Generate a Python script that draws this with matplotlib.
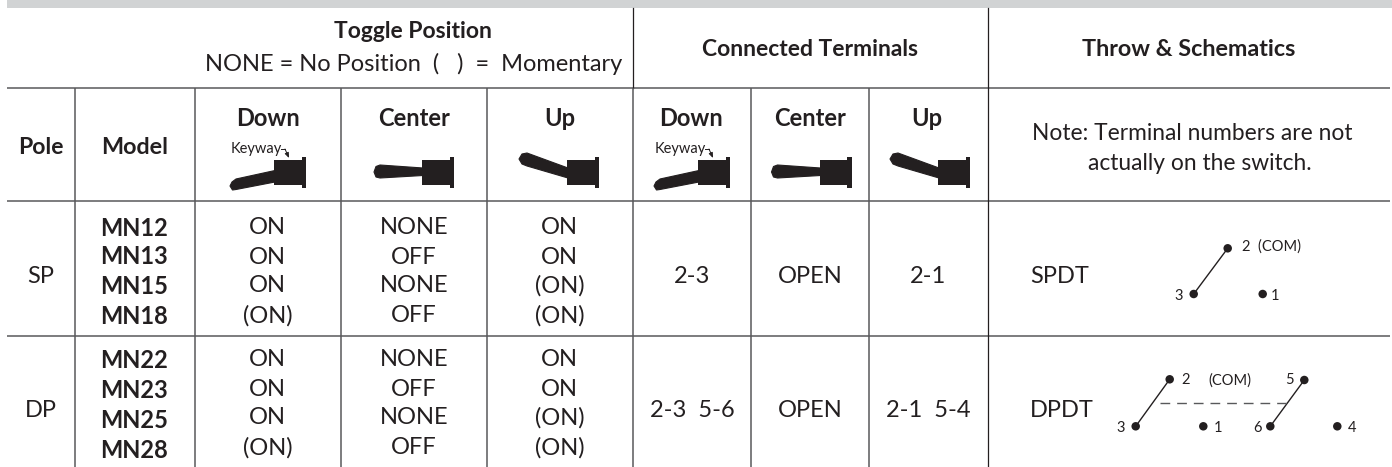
import matplotlib
matplotlib.use("Agg")
import matplotlib.pyplot as plt
from matplotlib.patches import Polygon, Rectangle, Ellipse

plt.rcParams['font.family'] = ['Lato', 'DejaVu Sans']

# table contents
poles = ["SP", "DP"]
models = [["MN12", "MN13", "MN15", "MN18"], ["MN22", "MN23", "MN25", "MN28"]]
toggle_down = ["ON", "ON", "ON", "(ON)"]
toggle_center = ["NONE", "OFF", "NONE", "OFF"]
toggle_up = ["ON", "ON", "(ON)", "(ON)"]
conn_down = ["2-3", "2-3  5-6"]
conn_center = ["OPEN", "OPEN"]
conn_up = ["2-1", "2-1  5-4"]
throws = ["SPDT", "DPDT"]

# layout, in pixels of the picture
W, H = 1392, 467
col_x = [74.5, 195, 340.7, 487, 632.7, 751, 869.3, 987.5]
row_y = [88, 201, 335.7]
row_text_y = [[226, 255, 284, 314], [358, 387, 416, 446]]
model_y = [[226, 255, 284, 314], [359, 389, 418, 448]]
row_mid_y = [274.5, 408.5]
line_col = "#58595b"
text_col = "#231f20"

fig = plt.figure(figsize=(W / 100, H / 100), dpi=100)
ax = fig.add_axes([0, 0, 1, 1])
ax.set_xlim(0, W)
ax.set_ylim(H, 0)
ax.axis("off")


def txt(x, y, s, size=17, weight="normal", ha="center", color=text_col):
    ax.text(x, y, s, fontsize=size, fontweight=weight, ha=ha, va="center_baseline", color=color)


def toggle(right, pos, keyway=False):
    # right is the right edge of the flange
    cy = 172
    ax.add_patch(Rectangle((right - 32, cy - 12), 29, 24.5, color=text_col, lw=0))
    ax.add_patch(Rectangle((right - 4.3, cy - 15), 4.3, 31, color=text_col, lw=0))
    b = right - 32
    if pos == "down":
        pts = [(b + 1, cy - 1.5), (b - 38, cy + 7), (b - 42, cy + 10), (b - 44, cy + 14),
               (b - 41.5, cy + 18), (b - 38, cy + 17.5), (b + 1, cy + 10)]
    elif pos == "center":
        pts = [(b + 1, cy - 4), (b - 42, cy - 7), (b - 46, cy - 5.5), (b - 48, cy),
               (b - 46, cy + 5), (b - 42, cy + 6), (b + 1, cy + 3.5)]
    else:
        pts = [(b + 1, cy - 4), (b - 40, cy - 19), (b - 45, cy - 18), (b - 48, cy - 13),
               (b - 45, cy - 8), (b - 40, cy - 6), (b + 1, cy + 6)]
    ax.add_patch(Polygon(pts, closed=True, facecolor=text_col, edgecolor=text_col, lw=0.8, joinstyle="round"))
    if keyway:
        ax.text(b - 43, 148, "Keyway", fontsize=10.5, ha="left", va="center_baseline", color=text_col)
        ax.annotate("", xy=(b + 15, 158), xytext=(b + 11, 149),
                    arrowprops=dict(arrowstyle="-|>,head_width=0.12,head_length=0.3", color=text_col,
                                    lw=0.7, shrinkA=0, shrinkB=0))
        ax.plot([b + 7, b + 11], [149, 149], color=text_col, lw=0.7)


def dot(x, y):
    ax.add_patch(Ellipse((x, y), 8.5, 8.5, color=text_col, lw=0))


# header band and grid
ax.add_patch(Rectangle((7, 0), W - 7, 8, color="#d1d3d4", lw=0))
for y in row_y:
    ax.plot([7, 1390], [y, y], color=line_col, lw=1.1, solid_capstyle="butt")
ax.plot([col_x[4], col_x[4]], [8, 88], color=text_col, lw=0.9)
ax.plot([col_x[7], col_x[7]], [8, H], color=text_col, lw=0.9)
for x in col_x[:-1]:
    ax.plot([x, x], [88, H], color=line_col, lw=1.1, solid_capstyle="butt")

# top header
txt(413, 30, "Toggle Position", size=16.5, weight="bold")
txt(413.5, 62, "NONE = No Position  (   )  =  Momentary", size=17)
txt(810, 47.5, "Connected Terminals", size=16.5, weight="bold")
txt(1189, 47.5, "Throw & Schematics", size=16.8, weight="bold")

# second header
txt(41, 146, "Pole", size=16.6, weight="bold")
txt(134.5, 146, "Model", size=16.8, weight="bold")
for x, s in zip([267.5, 414, 560, 691, 810, 927], ["Down", "Center", "Up", "Down", "Center", "Up"]):
    txt(x, 116, s, size=17, weight="bold")
txt(1192.5, 132, "Note: Terminal numbers are not", size=16.4)
txt(1199.5, 162, "actually on the switch.", size=16.4)

toggle(306, "down", True)
toggle(454, "center")
toggle(599, "up")
toggle(730, "down", True)
toggle(851.5, "center")
toggle(970, "up")

# body rows
for r in range(2):
    ys = row_text_y[r]
    mid = row_mid_y[r]
    txt(41, mid, poles[r])
    for i in range(4):
        txt(134.5, model_y[r][i], models[r][i], size=17, weight="bold")
        txt(267.5, ys[i], toggle_down[i])
        txt(414, ys[i], toggle_center[i])
        txt(559.5, ys[i], toggle_up[i])
    txt(692, mid, conn_down[r])
    txt(810, mid, conn_center[r])
    txt(928, mid, conn_up[r])
    txt(1030, mid, throws[r], ha="left")

# SPDT schematic
dot(1227.7, 248.3)
dot(1193.7, 294)
dot(1262.7, 294)
ax.plot([1227.7, 1193.7], [248.3, 294], color=text_col, lw=1)
txt(1241.5, 245, "2  (COM)", size=10.5, ha="left")
txt(1179, 294, "3", size=10.5)
txt(1275, 294, "1", size=10.5)

# DPDT schematic
for x, y in [(1169.7, 379.3), (1135.7, 426.3), (1203.3, 426.3),
             (1304.3, 380), (1270.3, 426.3), (1337.3, 426.3)]:
    dot(x, y)
ax.plot([1169.7, 1135.7], [379.3, 426.3], color=text_col, lw=1)
ax.plot([1304.3, 1270.3], [380, 426.3], color=text_col, lw=1)
ax.plot([1160, 1292], [402.7, 402.7], color=line_col, lw=1, dashes=(7, 5))
for x, y, s in [(1186, 379, "2"), (1230, 379, "(COM)"), (1289, 379, "5"), (1121, 426, "3"),
                (1218, 426, "1"), (1258, 426, "6"), (1352, 426, "4")]:
    txt(x, y, s, size=10.5)

fig.savefig("out.png", dpi=100)
